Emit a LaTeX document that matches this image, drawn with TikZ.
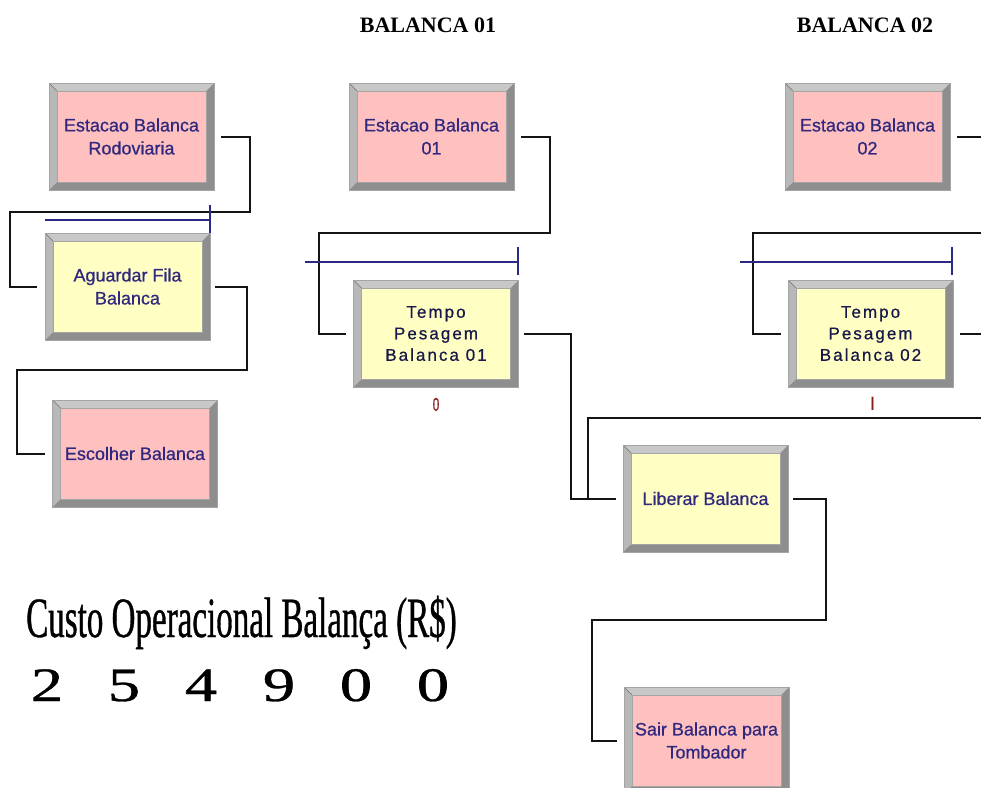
\documentclass[tikz,border=0pt]{standalone}
\usepackage{fontspec}
\usepackage{graphicx}
\setmainfont{Liberation Serif}
\newfontfamily\boxfont[FakeBold=0.7]{Liberation Sans}
\newfontfamily\tempofont[LetterSpace=12,FakeBold=0.7]{Liberation Sans}
\newfontfamily\custofont[FakeStretch=0.58,FakeBold=0.6]{Liberation Serif}
\usetikzlibrary{calc}

\definecolor{boxpink}{HTML}{FFC0C0}
\definecolor{boxyellow}{HTML}{FFFFC4}
\definecolor{bevtop}{HTML}{C8C8C8}
\definecolor{bevleft}{HTML}{B8B8B8}
\definecolor{bevdark}{HTML}{8E8E8E}
\definecolor{boxedge}{HTML}{A4A4A4}
\definecolor{txtnavy}{HTML}{30287E}
\definecolor{tempotext}{HTML}{18184A}
\definecolor{connline}{HTML}{141414}
\definecolor{queueblue}{HTML}{2A2A86}
\definecolor{countred}{HTML}{8B1A1A}

% bevelled module frame drawn inside a node, inner face filled with #1
\newcommand\bevelbox[1]{%
  \fill[bevdark] (path picture bounding box.south west) rectangle (path picture bounding box.north east);
  \fill[bevtop] (path picture bounding box.north west) -- (path picture bounding box.north east)
    -- ([shift={(-8pt,-8pt)}]path picture bounding box.north east)
    -- ([shift={(8pt,-8pt)}]path picture bounding box.north west) -- cycle;
  \fill[bevleft] (path picture bounding box.north west)
    -- ([shift={(8pt,-8pt)}]path picture bounding box.north west)
    -- ([shift={(8pt,8pt)}]path picture bounding box.south west)
    -- (path picture bounding box.south west) -- cycle;
  \draw[bevdark!80!black, line width=0.5pt] (path picture bounding box.north west)
    -- ([shift={(8pt,-8pt)}]path picture bounding box.north west);
  \fill[#1] ([shift={(8pt,-8pt)}]path picture bounding box.north west)
    rectangle ([shift={(-8pt,8pt)}]path picture bounding box.south east);
  \draw[boxedge, line width=0.6pt] ([shift={(8pt,-8pt)}]path picture bounding box.north west)
    rectangle ([shift={(-8pt,8pt)}]path picture bounding box.south east);
}

\tikzset{
  module/.style={rectangle, minimum width=165pt, minimum height=107pt, inner sep=0pt,
    draw=boxedge, line width=0.8pt, align=center, text=txtnavy,
    font=\boxfont\fontsize{18}{23}\selectfont},
  pinkbox/.style={module, path picture={\bevelbox{boxpink}}},
  yellowbox/.style={module, path picture={\bevelbox{boxyellow}}},
  processbox/.style={yellowbox, text=tempotext, font=\tempofont\fontsize{17}{21.5}\selectfont},
  conn/.style={draw=connline, line width=2pt},
  queue/.style={draw=queueblue, line width=2pt},
  counter/.style={text=countred, font=\boxfont\fontsize{18}{18}\selectfont, inner sep=0pt},
  header/.style={font=\bfseries\fontsize{22}{24}\selectfont, inner sep=0pt},
  digit/.style={anchor=base, inner sep=0pt, font=\custofont\fontsize{48}{50}\selectfont}
}

\begin{document}
\begin{tikzpicture}[x=1pt, y=-1pt]
\useasboundingbox (0,0) rectangle (981,787);
\fill[white] (0,0) rectangle (981,787);
\begin{scope}
\clip (0,0) rectangle (981,787);

% column headers
\node[header] (hdr1) at (428,25) {BALANCA 01};
\node[header] (hdr2) at (865,25) {BALANCA 02};

% modules
\node[pinkbox] (est0) at (131.5,136.5) {Estacao Balanca\\Rodoviaria};
\node[yellowbox] (agu) at (127.5,286.5) {Aguardar Fila\\Balanca};
\node[pinkbox] (esc) at (135,453.5) {Escolher Balanca};
\node[pinkbox] (est1) at (431.5,136.5) {Estacao Balanca\\01};
\node[processbox] (tp1) at (436,333.5) {Tempo\\Pesagem\\Balanca 01};
\node[pinkbox] (est2) at (867.5,136.5) {Estacao Balanca\\02};
\node[processbox] (tp2) at (870.5,333.5) {Tempo\\Pesagem\\Balanca 02};
\node[yellowbox] (lib) at (705.5,498.5) {Liberar Balanca};
\node[pinkbox] (sair) at (706.5,740.5) {Sair Balanca para\\Tombador};

% bend points of the connectors
\coordinate (b1) at (250,212);
\coordinate (b2) at (247,370);
\coordinate (b3) at (550,233);
\coordinate (b5) at (1000,418);
\coordinate (b6) at (1000,233);
\coordinate (b7) at (826,620);

% connectors
\draw[conn] ([xshift=7pt]est0.east) -| (b1) -| ([xshift=-35pt]agu.west) -- ([xshift=-8pt]agu.west);
\draw[conn] ([xshift=5pt]agu.east) -| (b2) -| ([xshift=-35pt]esc.west) -- ([xshift=-7pt]esc.west);
\draw[conn] ([xshift=7pt]est1.east) -| (b3) -| ([xshift=-34pt]tp1.west) -- ([xshift=-7pt]tp1.west);
\draw[conn] ([xshift=5pt]tp1.east) -| ([xshift=-52pt]lib.west) -- ([xshift=-7pt]lib.west);
\draw[conn] ([xshift=7pt]tp2.east) -| (b5) -| ([xshift=-35pt]lib.west) -- ([xshift=-7pt]lib.west);
\draw[conn] ([xshift=7pt]est2.east) -| (b6) -| ([xshift=-35pt]tp2.west) -- ([xshift=-7pt]tp2.west);
\draw[conn] ([xshift=5pt]lib.east) -| (b7) -| ([xshift=-32pt]sair.west) -- ([xshift=-7pt]sair.west);

% queues
\draw[queue] ([yshift=13pt]agu.north west) -- ([yshift=13pt]agu.north east);
\draw[queue] ([yshift=28pt]agu.north east) -- (agu.north east);
\draw[queue] ([shift={(-48.5pt,18pt)}]tp1.north west) -- ([shift={(-0.5pt,18pt)}]tp1.north east);
\draw[queue] ([shift={(-0.5pt,33pt)}]tp1.north east) -- ([shift={(-0.5pt,5pt)}]tp1.north east);
\draw[queue] ([shift={(-48pt,18pt)}]tp2.north west) -- ([shift={(-1pt,18pt)}]tp2.north east);
\draw[queue] ([shift={(-1pt,33pt)}]tp2.north east) -- ([shift={(-1pt,5pt)}]tp2.north east);

% entity counters
\node[counter] (cnt1) at ([yshift=-17pt]tp1.south) {\scalebox{0.65}[1.05]{0}};
\node[counter] (cnt2) at ([xshift=2pt,yshift=-16pt]tp2.south) {\scalebox{1}[1.05]{I}};

% operating cost display
\node[anchor=base west, inner sep=0pt, font=\custofont\fontsize{57}{60}\selectfont] (custo) at (26,637) {Custo Operacional Balança (R\$)};
\node[digit] (d1) at (47,701) {\scalebox{2.3}[1]{2}};
\node[digit] (d2) at (124,701) {\scalebox{2.3}[1]{5}};
\node[digit] (d3) at (201,701) {\scalebox{2.3}[1]{4}};
\node[digit] (d4) at (279,701) {\scalebox{2.3}[1]{9}};
\node[digit] (d5) at (356,701) {\scalebox{2.3}[1]{0}};
\node[digit] (d6) at (433,701) {\scalebox{2.3}[1]{0}};
\end{scope}
\end{tikzpicture}
\end{document}
